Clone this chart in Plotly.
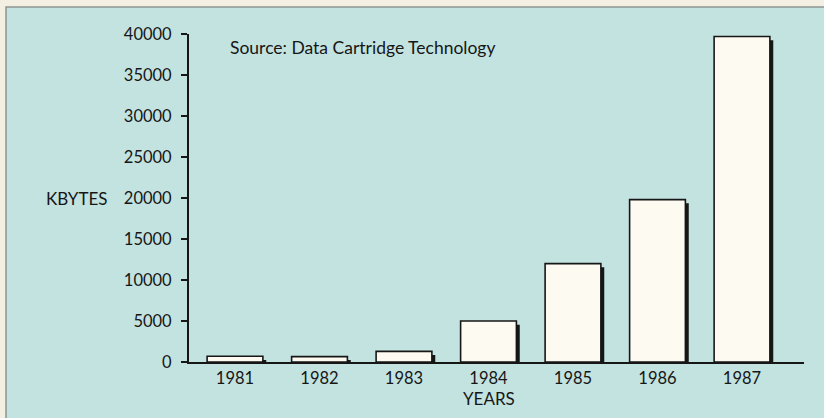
import plotly.graph_objects as go

# datos
years = [1981, 1982, 1983, 1984, 1985, 1986, 1987]
kbytes = [700, 650, 1300, 5000, 12000, 19800, 39700]
y_ticks = [0, 5000, 10000, 15000, 20000, 25000, 30000, 35000, 40000]

CYAN = "#c3e3e1"
CREAM = "#f3efe2"
BAR = "#fdfbf1"
INK = "#161616"
FONT = "Lato"

# geometría del área de dibujo (px)
L, R, T, B = 189, 20, 34, 56
W, H = 824 - L - R, 418 - T - B

bar_w = 0.66
shadow_dx = 0.04  # desplazamiento de la sombra, en unidades de x
shadow_dy = 450   # la sombra empieza un poco más abajo

fig = go.Figure()

# sombra
fig.add_trace(
    go.Bar(
        x=years,
        y=[max(v - shadow_dy, 0) for v in kbytes],
        width=bar_w,
        offset=-bar_w / 2 + shadow_dx,
        marker=dict(color=INK, line=dict(width=0)),
        hoverinfo="skip",
        showlegend=False,
    )
)
# barras
fig.add_trace(
    go.Bar(
        x=years,
        y=kbytes,
        width=bar_w,
        offset=-bar_w / 2,
        marker=dict(color=BAR, line=dict(color=INK, width=1.6)),
        showlegend=False,
    )
)

fig.update_layout(
    width=824,
    height=418,
    barmode="overlay",
    margin=dict(l=L, r=R, t=T, b=B),
    paper_bgcolor=CREAM,
    plot_bgcolor="rgba(0,0,0,0)",
    font=dict(family=FONT, size=16, color=INK),
    showlegend=False,
    shapes=[
        # panel cian con borde gris
        dict(
            type="rect",
            xref="paper",
            yref="paper",
            x0=(6 - L) / W,
            x1=(830 - L) / W,
            y0=-(B + 10) / H,
            y1=1 + (T - 7) / H,
            fillcolor=CYAN,
            line=dict(color="#8d9593", width=1.5),
            layer="below",
        )
    ],
)

fig.update_xaxes(
    range=[years[0] - 46 / 84.5, years[-1] + 62 / 84.5],
    tickvals=years,
    ticks="",
    showline=True,
    linecolor=INK,
    linewidth=2,
    showgrid=False,
    zeroline=False,
    tickfont=dict(size=16.5),
)
fig.update_yaxes(
    range=[0, 40000],
    tickvals=y_ticks,
    ticktext=[str(v) for v in y_ticks],
    ticks="outside",
    ticklen=6,
    tickwidth=2,
    tickcolor=INK,
    ticklabelstandoff=6,
    showline=True,
    linecolor=INK,
    linewidth=2,
    showgrid=False,
    zeroline=False,
    tickfont=dict(size=16.5),
)

fig.add_annotation(
    text="KBYTES",
    xref="paper",
    yref="y",
    x=(110 - L) / W,
    y=20000,
    xanchor="right",
    yanchor="middle",
    showarrow=False,
    font=dict(size=17),
)
fig.add_annotation(
    text="YEARS",
    xref="x",
    yref="paper",
    x=years[3],
    y=-(398 - T - H) / H,
    xanchor="center",
    yanchor="middle",
    showarrow=False,
    font=dict(size=17),
)
fig.add_annotation(
    text="Source: Data Cartridge Technology",
    xref="paper",
    yref="paper",
    x=(228 - L) / W,
    y=1 - (47 - T) / H,
    xanchor="left",
    yanchor="middle",
    showarrow=False,
    font=dict(size=17.5),
)

# quitar el margen por defecto del <body> y la barra de herramientas
fig.write_html(
    "out.html",
    config={"displayModeBar": False},
    post_script="document.body.style.margin='0';document.body.style.overflow='hidden';",
)
